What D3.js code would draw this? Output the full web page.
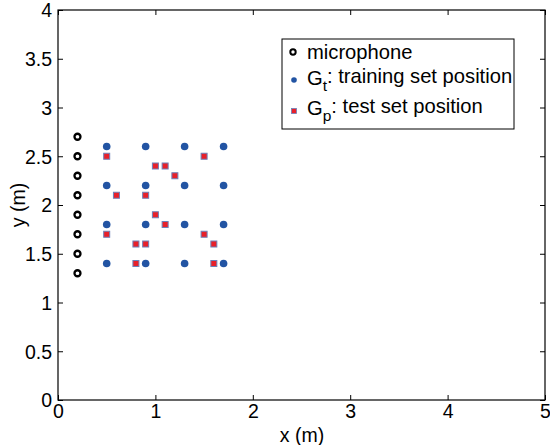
<!DOCTYPE html>
<html><head><meta charset="utf-8">
<script src="https://cdn.jsdelivr.net/npm/d3@7"></script>
<style>body{margin:0;background:#fff}text{font-family:Arial,"Liberation Sans",Helvetica,sans-serif;fill:#000}</style>
</head><body><svg id="c" width="550" height="445"></svg>
<script>
const micX = [0.2,0.2,0.2,0.2,0.2,0.2,0.2,0.2];
const micY = [1.3,1.5,1.7,1.9,2.1,2.3,2.5,2.7];
const trainX = [0.5,0.9,1.3,1.7, 0.5,0.9,1.3,1.7, 0.5,0.9,1.3,1.7, 0.5,0.9,1.3,1.7];
const trainY = [2.6,2.6,2.6,2.6, 2.2,2.2,2.2,2.2, 1.8,1.8,1.8,1.8, 1.4,1.4,1.4,1.4];
const testX = [0.5,1.5,1.0,1.1,1.2,0.6,0.9,1.0,1.1,0.5,1.5,0.8,0.9,1.6,0.8,1.6];
const testY = [2.5,2.5,2.4,2.4,2.3,2.1,2.1,1.9,1.8,1.7,1.7,1.6,1.6,1.6,1.4,1.4];
const xTicks = [0,1,2,3,4,5];
const yTicks = [0,0.5,1,1.5,2,2.5,3,3.5,4];
const legendLabels = [["microphone",""],["G","t",": training set position"],["G","p",": test set position"]];

const svg = d3.select("#c");
const L=58, R=545, T=10, B=400;
const x = d3.scaleLinear().domain([0,5]).range([L,R]);
const y = d3.scaleLinear().domain([0,4]).range([B,T]);
const blue="#2254a3", red="#e8202a", sqEdge="#6d80b8";
const FS="19.5px", LFS="20.2px";

const fmt = d=>String(d);
const gB = svg.append("g").attr("transform",`translate(0,${B})`).call(d3.axisBottom(x).tickValues(xTicks).tickFormat(fmt).tickSizeInner(-5).tickSizeOuter(0).tickPadding(4));
const gT = svg.append("g").attr("transform",`translate(0,${T})`).call(d3.axisTop(x).tickValues(xTicks).tickFormat("").tickSizeInner(-5).tickSizeOuter(0));
const gL = svg.append("g").attr("transform",`translate(${L},0)`).call(d3.axisLeft(y).tickValues(yTicks).tickFormat(fmt).tickSizeInner(-5).tickSizeOuter(0).tickPadding(6));
const gR = svg.append("g").attr("transform",`translate(${R},0)`).call(d3.axisRight(y).tickValues(yTicks).tickFormat("").tickSizeInner(-5).tickSizeOuter(0));
[gB,gT,gL,gR].forEach(g=>{g.selectAll("path").remove();g.selectAll("line").attr("stroke","#000").attr("stroke-width",1);g.selectAll("text").style("font-size",FS).attr("fill","#000");});
gB.selectAll("text").attr("dy","0.7em");
gL.selectAll("text").attr("dy","0.35em");
svg.append("rect").attr("x",L).attr("y",T).attr("width",R-L).attr("height",B-T).attr("fill","none").attr("stroke","#000").attr("stroke-width",1.2);

svg.append("text").attr("x",302).attr("y",442).attr("text-anchor","middle").style("font-size",FS).text("x (m)");
svg.append("text").attr("transform",`translate(25,${(T+B)/2}) rotate(-90)`).attr("text-anchor","middle").style("font-size",FS).text("y (m)");

svg.append("g").selectAll("circle").data(micX.map((v,i)=>[v,micY[i]])).join("circle")
 .attr("cx",d=>x(d[0])).attr("cy",d=>y(d[1])).attr("r",3).attr("fill","none").attr("stroke","#000").attr("stroke-width",2.3);
svg.append("g").selectAll("circle").data(trainX.map((v,i)=>[v,trainY[i]])).join("circle")
 .attr("cx",d=>x(d[0])).attr("cy",d=>y(d[1])).attr("r",3.8).attr("fill",blue);
svg.append("g").selectAll("rect").data(testX.map((v,i)=>[v,testY[i]])).join("rect")
 .attr("x",d=>x(d[0])-3).attr("y",d=>y(d[1])-3).attr("width",6).attr("height",6).attr("fill",red).attr("stroke",sqEdge).attr("stroke-width",1);

const lg = svg.append("g");
lg.append("rect").attr("x",282).attr("y",39).attr("width",232).attr("height",90).attr("fill","#fff").attr("stroke","#000").attr("stroke-width",1);
const rowsY=[52,78,108];
lg.append("circle").attr("cx",293).attr("cy",rowsY[0]).attr("r",2.7).attr("fill","none").attr("stroke","#000").attr("stroke-width",2);
lg.append("circle").attr("cx",294).attr("cy",rowsY[1]+2).attr("r",2.8).attr("fill",blue);
lg.append("rect").attr("x",291.5).attr("y",rowsY[2]+3-2.5).attr("width",5).attr("height",5).attr("fill",red).attr("stroke",sqEdge).attr("stroke-width",0.8);
legendLabels.forEach((lab,i)=>{
  const t = lg.append("text").attr("x",307).attr("y",rowsY[i]).attr("dy","0.36em").style("font-size",LFS);
  if(lab.length===2){t.text(lab[0]);}
  else{
    t.append("tspan").text(lab[0]);
    t.append("tspan").attr("dy","0.4em").style("font-size","15.5px").text(lab[1]);
    t.append("tspan").attr("dy","-0.4em").text(lab[2]);
  }
});
</script></body></html>
